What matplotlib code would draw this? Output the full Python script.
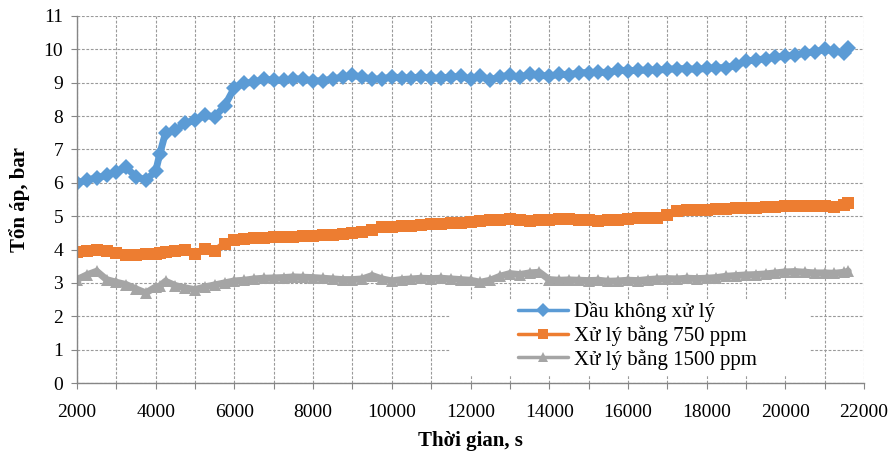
import matplotlib
matplotlib.use("Agg")
import matplotlib.pyplot as plt
from matplotlib.ticker import MultipleLocator
from matplotlib.patches import Rectangle

# ---- data ----
time_s = [2000, 2250, 2500, 2750, 3000, 3250, 3500, 3750, 4000,
          4100,
          4250, 4500, 4750, 5000, 5250, 5500, 5750, 6000,
          6250, 6500, 6750, 7000, 7250, 7500, 7750, 8000,
          8250, 8500, 8750, 9000, 9250, 9500, 9750, 10000,
          10250, 10500, 10750, 11000, 11250, 11500, 11750, 12000,
          12250, 12500, 12750, 13000, 13250, 13500, 13750, 14000,
          14250, 14500, 14750, 15000, 15250, 15500, 15750, 16000,
          16250, 16500, 16750, 17000, 17250, 17500, 17750, 18000,
          18250, 18500, 18750, 19000, 19250, 19500, 19750, 20000,
          20250, 20500, 20750, 21000, 21250, 21500,
          21600]

dau_khong_xu_ly = [6.00, 6.08, 6.15, 6.22, 6.32, 6.46, 6.18, 6.08, 6.35,
                   6.85,
                   7.50, 7.58, 7.78, 7.88, 8.02, 7.98, 8.30, 8.85,
                   8.98, 9.02, 9.10, 9.08, 9.07, 9.12, 9.10, 9.06,
                   9.05, 9.12, 9.16, 9.22, 9.17, 9.10, 9.12, 9.17,
                   9.15, 9.14, 9.18, 9.13, 9.15, 9.16, 9.20, 9.10,
                   9.20, 9.08, 9.18, 9.22, 9.16, 9.25, 9.22, 9.20,
                   9.25, 9.24, 9.30, 9.30, 9.32, 9.30, 9.38, 9.36,
                   9.37, 9.38, 9.38, 9.40, 9.42, 9.42, 9.40, 9.43,
                   9.45, 9.45, 9.52, 9.65, 9.68, 9.72, 9.76, 9.80,
                   9.82, 9.90, 9.92, 10.00, 9.95, 9.90,
                   10.05]

xu_ly_750 = [3.94, 3.97, 3.98, 3.95, 3.90, 3.85, 3.85, 3.87, 3.88,
             3.90,
             3.92, 3.95, 3.99, 3.86, 4.03, 3.95, 4.18, 4.30,
             4.33, 4.35, 4.36, 4.37, 4.38, 4.39, 4.40, 4.42,
             4.44, 4.45, 4.47, 4.49, 4.52, 4.58, 4.68, 4.68,
             4.70, 4.72, 4.74, 4.76, 4.78, 4.80, 4.81, 4.83,
             4.85, 4.88, 4.90, 4.93, 4.90, 4.86, 4.88, 4.90,
             4.92, 4.93, 4.90, 4.88, 4.86, 4.88, 4.90, 4.93,
             4.94, 4.95, 4.96, 5.05, 5.15, 5.20, 5.18, 5.19,
             5.21, 5.22, 5.24, 5.25, 5.26, 5.27, 5.29, 5.30,
             5.31, 5.31, 5.30, 5.30, 5.28, 5.33,
             5.39]

xu_ly_1500 = [3.10, 3.24, 3.35, 3.10, 3.02, 2.95, 2.82, 2.70, 2.88,
              2.90,
              3.05, 2.92, 2.85, 2.80, 2.88, 2.94, 3.00, 3.06,
              3.08, 3.12, 3.14, 3.15, 3.16, 3.18, 3.17, 3.16,
              3.14, 3.12, 3.10, 3.10, 3.12, 3.22, 3.12, 3.06,
              3.10, 3.12, 3.14, 3.13, 3.14, 3.12, 3.10, 3.08,
              3.02, 3.08, 3.20, 3.28, 3.25, 3.30, 3.32, 3.10,
              3.08, 3.09, 3.08, 3.07, 3.08, 3.05, 3.06, 3.08,
              3.07, 3.10, 3.12, 3.13, 3.12, 3.14, 3.13, 3.14,
              3.16, 3.20, 3.22, 3.24, 3.25, 3.27, 3.30, 3.33,
              3.34, 3.32, 3.30, 3.30, 3.29, 3.32,
              3.35]

labels = ["Dầu không xử lý", "Xử lý bằng 750 ppm", "Xử lý bằng 1500 ppm"]
colors = ["#5B9BD5", "#ED7D31", "#A5A5A5"]
markers = ["D", "s", "^"]

x_ticks = [2000, 4000, 6000, 8000, 10000, 12000, 14000, 16000, 18000, 20000, 22000]
y_ticks = list(range(0, 12))

# ---- figure ----
plt.rcParams['font.family'] = ['Liberation Serif', 'DejaVu Serif']
fig = plt.figure(figsize=(8.9, 4.54), dpi=100)
ax = fig.add_axes([77 / 890, 1 - 383 / 454, (864 - 77) / 890, (383 - 16) / 454])

series = [dau_khong_xu_ly, xu_ly_750, xu_ly_1500]
sizes = [8, 8, 8.5]
for vals, lab, col, mk, ms in zip(series, labels, colors, markers, sizes):
    ax.plot(time_s, vals, color=col, marker=mk, markersize=ms,
            linewidth=5, markeredgewidth=0, solid_joinstyle="round",
            solid_capstyle="round", label=lab)

ax.set_xlim(2000, 22000)
ax.set_ylim(0, 11)
ax.set_xticks(x_ticks)
ax.set_yticks(y_ticks)
ax.xaxis.set_minor_locator(MultipleLocator(1000))

grid_kw = dict(color="#9a9a9a", linestyle=(0, (2.5, 1.5)), linewidth=0.8)
ax.grid(True, which="major", axis="both", **grid_kw)
ax.grid(True, which="minor", axis="x", **grid_kw)
ax.set_axisbelow(True)

for s in ["top", "right"]:
    ax.spines[s].set_visible(False)
for s in ["left", "bottom"]:
    ax.spines[s].set_color("#868686")
    ax.spines[s].set_linewidth(1.0)

ax.tick_params(axis="both", which="both", direction="out", color="#868686",
               labelsize=14, length=4, width=0.8)
ax.tick_params(axis="x", which="major", pad=11)
ax.tick_params(axis="y", which="major", pad=6)

ax.set_xlabel("Thời gian, s", fontsize=15, fontweight="bold", labelpad=7)
ax.set_ylabel("Tổn áp, bar", fontsize=15, fontweight="bold", labelpad=10)

# white legend area (covers grid like the reference)
ax.add_patch(Rectangle((450 / 890, 1 - 375 / 454), 360 / 890, 75 / 454,
                       transform=fig.transFigure, facecolor="white",
                       edgecolor="none", zorder=1.5))

leg = ax.legend(loc="lower left", bbox_to_anchor=(512 / 890, 1 - 376 / 454),
                bbox_transform=fig.transFigure, fontsize=15, frameon=False,
                borderpad=0.3, labelspacing=0.15,
                handlelength=2.4, handletextpad=0.3, borderaxespad=0)
for h in leg.get_lines():
    h.set_markersize(7)
    h.set_linewidth(2.5)

fig.savefig("out.png", dpi=100)
